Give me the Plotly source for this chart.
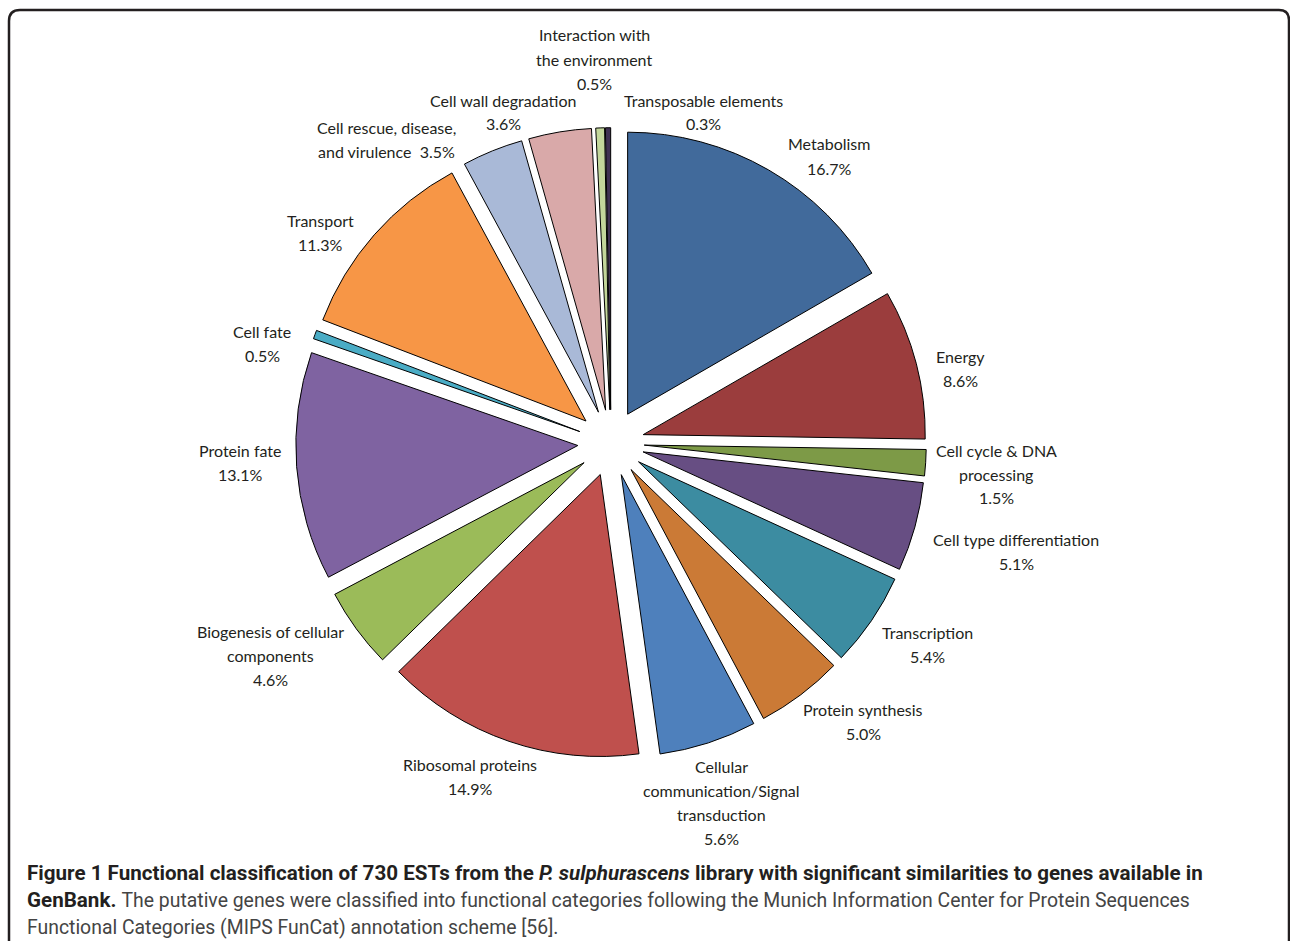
import plotly.graph_objects as go

categories = ["Metabolism", "Energy", "Cell cycle & DNA<br>processing", "Cell type differentiation",
              "Transcription", "Protein synthesis", "Cellular<br>communication/Signal<br>transduction",
              "Ribosomal proteins", "Biogenesis of cellular<br>components", "Protein fate", "Cell fate",
              "Transport", "Cell rescue, disease,<br>and virulence", "Cell wall degradation",
              "Interaction with<br>the environment", "Transposable elements"]
percent = [16.7, 8.6, 1.5, 5.1, 5.4, 5.0, 5.6, 14.9, 4.6, 13.1, 0.5, 11.3, 3.5, 3.6, 0.5, 0.3]
colors = ["#416A9B", "#9B3D3D", "#7D9A47", "#674E83", "#3C8CA1", "#CB7A36", "#4E80BC", "#BF504D",
          "#9BBB59", "#7F63A1", "#4AACC5", "#F79646", "#A9B9D7", "#D9A9A9", "#C3D69B", "#403152"]

W, H = 1290, 941

def px(x, y):
    return x / W, 1 - y / H

fig = go.Figure()
pull = 0.118
cx, cy, R = 611, 443, 282 * (1 + pull)
x0, y0 = px(cx - R, cy + R)
x1, y1 = px(cx + R, cy - R)
fig.add_trace(go.Pie(values=percent, labels=categories, sort=False, direction="clockwise",
                     rotation=0, pull=[pull] * len(percent), textinfo="none", hoverinfo="label+value",
                     marker=dict(colors=colors, line=dict(color="#000000", width=1)),
                     domain=dict(x=[x0, x1], y=[y0, y1]), showlegend=False))

# label block centres (pixel) for each category
label_pos = [(829, 156), (960, 368), (996, 474), (1016, 551), (927, 644), (863, 721), (721, 802),
             (470, 776), (270, 655), (240, 462), (262, 343), (320, 232), (386, 140), (503, 112),
             (594, 59), (703, 112)]
LINE = 24
annotations = []
lab_font = dict(family="Lato, Open Sans, sans-serif", size=16, color="#231F20")
for cat, p, (lx, ly) in zip(categories, percent, label_pos):
    if cat.startswith("Cell rescue"):
        txt = cat + "  %.1f%%" % p
    else:
        txt = cat + "<br>%.1f%%" % p
    lines = txt.split("<br>")
    n = len(lines)
    for i, ln in enumerate(lines):
        ax, ay = px(lx, ly + (i - (n - 1) / 2) * LINE)
        annotations.append(dict(x=ax, y=ay, xref="paper", yref="paper", text=ln, showarrow=False,
                                xanchor="center", yanchor="middle", align="center", font=lab_font))

cap_font = dict(family="Roboto, sans-serif", size=20.6, color="#231F20")
norm = "<span style='color:#444444;font-size:19.4px'>%s</span>"
caption = [
    "<b>Figure 1 Functional classification of 730 ESTs from the <i>P. sulphurascens</i> library with significant similarities to genes available in</b>",
    "<b>GenBank.</b> " + norm % "The putative genes were classified into functional categories following the Munich Information Center for Protein Sequences",
    norm % "Functional Categories (MIPS FunCat) annotation scheme [56].",
]
for i, line in enumerate(caption):
    ax, ay = px(25, 873 + 27 * i)
    annotations.append(dict(x=ax, y=ay, xref="paper", yref="paper", text=line, showarrow=False,
                            xanchor="left", yanchor="middle", align="left", font=cap_font))

# rounded frame
def pp(x, y):
    a, b = px(x, y)
    return "%f,%f" % (a, b)

path = ("M " + pp(9, 960) + " L " + pp(9, 21) + " Q " + pp(9, 10) + " " + pp(20, 10) +
        " L " + pp(1279, 10) + " Q " + pp(1289, 10) + " " + pp(1289, 20) + " L " + pp(1289, 960))
fig.update_layout(
    width=W, height=H, margin=dict(l=0, r=0, t=0, b=0),
    paper_bgcolor="white", plot_bgcolor="white",
    annotations=annotations,
    shapes=[dict(type="path", xref="paper", yref="paper", path=path,
                 line=dict(color="#231F20", width=2.5))],
)
fig.write_html("out.html", config={"displayModeBar": False},
               post_script="document.body.style.margin='0';document.body.style.overflow='hidden';")
